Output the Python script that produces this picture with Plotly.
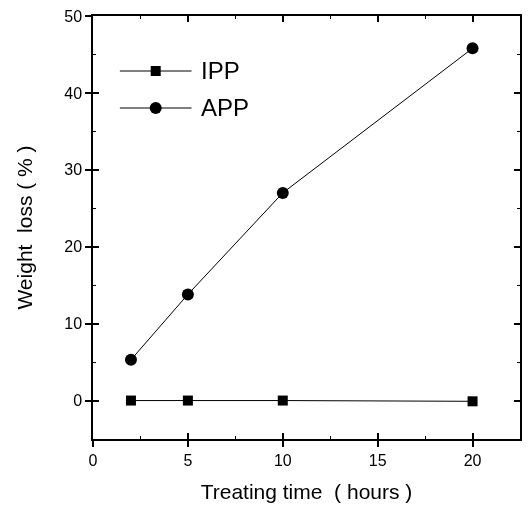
import plotly.graph_objects as go

time_h = [2, 5, 10, 20]
ipp_loss = [0.0, 0.0, 0.0, -0.1]
app_loss = [5.3, 13.8, 27.0, 45.8]
series_names = ["IPP", "APP"]

FONT = "Liberation Sans, Arial, sans-serif"

# plot area in pixels (for legend placement)
L, R, T, B = 93, 522, 16, 439
def px(xp):
    return (xp - L) / (R - L)
def py(yp):
    return (B - yp) / (B - T)

fig = go.Figure()
fig.add_trace(go.Scatter(x=time_h, y=ipp_loss, name=series_names[0], mode="lines+markers",
                         line=dict(color="black", width=1),
                         marker=dict(symbol="square", size=10, color="black"), showlegend=False))
fig.add_trace(go.Scatter(x=time_h, y=app_loss, name=series_names[1], mode="lines+markers",
                         line=dict(color="black", width=1),
                         marker=dict(symbol="circle", size=12, color="black"), showlegend=False))
# invisible carrier trace so the overlay tick axes are drawn
fig.add_trace(go.Scatter(x=time_h, y=app_loss, xaxis="x2", yaxis="y2", mode="markers",
                         opacity=0, hoverinfo="skip", showlegend=False))

# manual legend
shapes = []
annotations = []
for i, (name, sym) in enumerate(zip(series_names, ["square", "circle"])):
    yy = py(71 + 37 * i)
    shapes.append(dict(type="line", xref="paper", yref="paper", x0=px(120), x1=px(192),
                       y0=yy, y1=yy, line=dict(color="black", width=1)))
    s = 5 if sym == "square" else 6
    shapes.append(dict(type="rect" if sym == "square" else "circle", xref="paper", yref="paper",
                       xsizemode="pixel", ysizemode="pixel", xanchor=px(156), yanchor=yy,
                       x0=-s, x1=s, y0=-s, y1=s, fillcolor="black", line=dict(width=0)))
    annotations.append(dict(text=name, xref="paper", yref="paper", x=px(199), y=yy,
                            xanchor="left", yanchor="middle", showarrow=False,
                            font=dict(family=FONT, size=24, color="black")))

common = dict(showgrid=False, zeroline=False, linecolor="black", linewidth=1.5,
              tickcolor="black", tickwidth=1.5, tickfont=dict(family=FONT, size=16, color="black"))

fig.update_layout(
    width=530, height=512,
    margin=dict(l=L, r=530 - R, t=T, b=512 - B),
    paper_bgcolor="white", plot_bgcolor="white",
    font=dict(family=FONT, color="black"),
    shapes=shapes, annotations=annotations,
    xaxis=dict(range=[0, 22.5], tickvals=[0, 5, 10, 15, 20], ticks="outside", ticklen=6,
               mirror=True, showline=True,
               title=dict(text="Treating time  ( hours )", font=dict(family=FONT, size=21), standoff=16),
               **common),
    yaxis=dict(range=[-5, 50], tickvals=[0, 10, 20, 30, 40, 50], ticks="outside", ticklen=6,
               mirror=True, showline=True,
               title=dict(text="Weight  loss ( % )", font=dict(family=FONT, size=21), standoff=26),
               **common),
    xaxis2=dict(overlaying="x", anchor="y", side="bottom", range=[0, 22.5],
                tickvals=[0, 5, 10, 15, 20], ticks="inside", ticklen=6, mirror="allticks",
                showticklabels=False, showline=False, showgrid=False, zeroline=False,
                tickcolor="black", tickwidth=1.5,
                minor=dict(tickvals=[2.5, 7.5, 12.5, 17.5], ticks="inside", ticklen=3,
                           tickcolor="black", tickwidth=1)),
    yaxis2=dict(overlaying="y", anchor="x", side="left", range=[-5, 50],
                tickvals=[0, 10, 20, 30, 40, 50], ticks="inside", ticklen=6, mirror="allticks",
                showticklabels=False, showline=False, showgrid=False, zeroline=False,
                tickcolor="black", tickwidth=1.5,
                minor=dict(tickvals=[-5, 5, 15, 25, 35, 45], ticks="inside", ticklen=3,
                           tickcolor="black", tickwidth=1)),
)

fig.write_html("out.html")
